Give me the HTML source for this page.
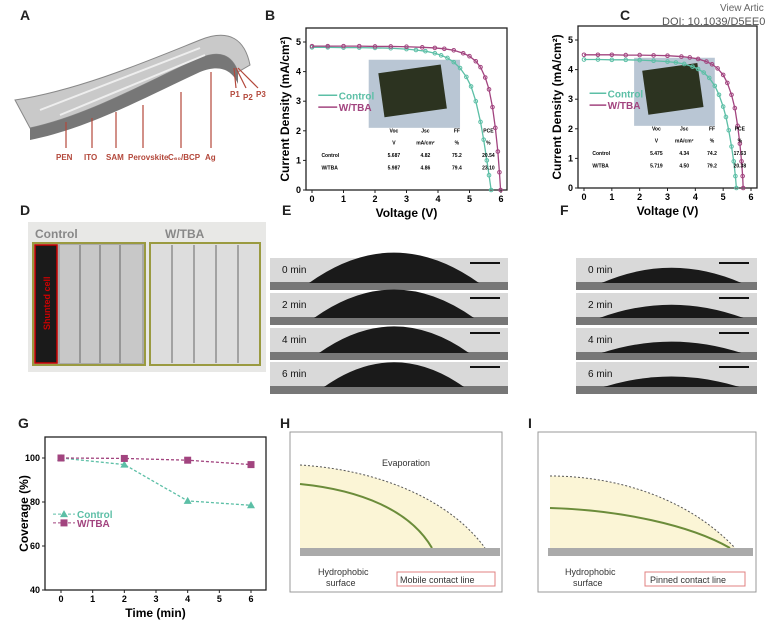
<!DOCTYPE html>
<html><head><meta charset="utf-8"><style>
body{margin:0;background:#fff;font-family:"Liberation Sans",sans-serif}
svg text{font-family:"Liberation Sans",sans-serif}
</style></head><body>
<svg id="fig" width="766" height="625" viewBox="0 0 766 625" xmlns="http://www.w3.org/2000/svg">
<text x="720" y="11" font-size="10" fill="#666">View Artic</text>
<text x="662" y="25" font-size="11" fill="#555">DOI: 10.1039/D5EE0</text>
<!-- panel labels -->
<g font-weight="bold" font-size="14" fill="#222">
<text x="20" y="20">A</text>
<text x="265" y="20">B</text>
<text x="620" y="20">C</text>
<text x="20" y="215">D</text>
<text x="282" y="215">E</text>
<text x="560" y="215">F</text>
<text x="18" y="428">G</text>
<text x="280" y="428">H</text>
<text x="528" y="428">I</text>
</g>
<!-- Panel A illustration -->
<g>
<path d="M15,100 C80,90 150,60 200,40 C230,28 245,40 250,65 L238,72 C232,55 220,50 200,58 C150,80 90,115 30,128 Z" fill="#c9c9c9" stroke="#888"/>
<path d="M30,128 L30,140 C90,128 150,95 200,72 C220,64 232,70 238,84 L238,72 C232,55 220,50 200,58 C150,80 90,115 30,128Z" fill="#777"/>
<path d="M40,110 L200,48 M60,115 L205,55" stroke="#eee" stroke-width="2"/>
</g>
<g font-size="8" fill="#b3473a" font-weight="bold">
<g stroke="#b3473a" stroke-width="1.2">
<line x1="66" y1="122" x2="66" y2="148"/><line x1="92" y1="118" x2="92" y2="148"/><line x1="116" y1="112" x2="116" y2="148"/><line x1="143" y1="105" x2="143" y2="148"/><line x1="181" y1="92" x2="181" y2="148"/><line x1="211" y1="72" x2="211" y2="148"/>
<line x1="234" y1="68" x2="236" y2="88"/><line x1="236" y1="68" x2="246" y2="88"/><line x1="238" y1="68" x2="258" y2="88"/>
</g>
<text x="56" y="160">PEN</text><text x="84" y="160">ITO</text><text x="106" y="160">SAM</text><text x="128" y="160">Perovskite</text><text x="168" y="160">C₆₀/BCP</text><text x="205" y="160">Ag</text>
<text x="230" y="97">P1</text><text x="243" y="100">P2</text><text x="256" y="97">P3</text>
</g>

<g id="chartB"></g><g id="chartC"></g><g id="chartG"></g>

<!-- Panel D -->
<g>
<rect x="28" y="222" width="238" height="150" fill="#e8e8e6"/>
<text x="35" y="238" font-size="12" font-weight="bold" fill="#888">Control</text>
<text x="165" y="238" font-size="12" font-weight="bold" fill="#888">W/TBA</text>
<rect x="33" y="243" width="112" height="122" fill="#aaa" stroke="#9a9a40" stroke-width="2"/>
<rect x="35" y="245" width="22" height="118" fill="#1a1a1a" stroke="#c00" stroke-width="1.5"/>
<text transform="translate(50,330) rotate(-90)" font-size="9" fill="#c00" font-weight="bold">Shunted cell</text>
<rect x="60" y="245" width="82" height="118" fill="#c8c8c8"/>
<rect x="150" y="243" width="110" height="122" fill="#ddd" stroke="#9a9a40" stroke-width="2"/>
<g stroke="#666"><line x1="80" y1="245" x2="80" y2="363"/><line x1="100" y1="245" x2="100" y2="363"/><line x1="120" y1="245" x2="120" y2="363"/><line x1="172" y1="245" x2="172" y2="363"/><line x1="194" y1="245" x2="194" y2="363"/><line x1="216" y1="245" x2="216" y2="363"/><line x1="238" y1="245" x2="238" y2="363"/></g>
</g>
<g id="drops"></g>

<!-- Panel H -->
<g>
<rect x="290" y="432" width="212" height="160" fill="#fff" stroke="#999"/>
<path d="M300,548 L300,465 C380,470 450,500 485,548Z" fill="#fbf5d6"/>
<path d="M300,465 C380,470 450,500 485,548" fill="none" stroke="#555" stroke-dasharray="2,2"/>
<path d="M300,484 C360,490 410,510 432,548" fill="none" stroke="#6b8c3a" stroke-width="2"/>
<rect x="300" y="548" width="200" height="8" fill="#aaa"/>
<text x="382" y="466" font-size="9" fill="#333">Evaporation</text>
<text x="318" y="575" font-size="9" fill="#333">Hydrophobic</text><text x="326" y="586" font-size="9" fill="#333">surface</text>
<rect x="397" y="572" width="98" height="14" fill="#fff" stroke="#e08080"/>
<text x="400" y="583" font-size="9" fill="#333">Mobile contact line</text>
</g>
<g>
<rect x="538" y="432" width="218" height="160" fill="#fff" stroke="#999"/>
<path d="M550,548 L550,476 C620,476 690,500 735,548Z" fill="#fbf5d6"/>
<path d="M550,476 C620,476 690,500 735,548" fill="none" stroke="#555" stroke-dasharray="2,2"/>
<path d="M550,508 C620,510 690,525 730,548" fill="none" stroke="#6b8c3a" stroke-width="2"/>
<rect x="548" y="548" width="205" height="8" fill="#aaa"/>
<text x="565" y="575" font-size="9" fill="#333">Hydrophobic</text><text x="573" y="586" font-size="9" fill="#333">surface</text>
<rect x="645" y="572" width="100" height="14" fill="#fff" stroke="#e08080"/>
<text x="650" y="583" font-size="9" fill="#333">Pinned contact line</text>
</g>
</svg>
<script>
const NS='http://www.w3.org/2000/svg';
function el(p,t,a){const e=document.createElementNS(NS,t);for(const k in a)e.setAttribute(k,a[k]);p.appendChild(e);return e;}
const TEAL='#5cbfa6',PURP='#a2447f';
// Panel B data
const bCtrlV=[0,0.5,1,1.5,2,2.5,3,3.3,3.6,3.9,4.1,4.3,4.5,4.7,4.9,5.05,5.2,5.35,5.45,5.55,5.62,5.687];
const bCtrlJ=[4.82,4.82,4.81,4.81,4.8,4.79,4.76,4.73,4.69,4.62,4.55,4.46,4.32,4.12,3.82,3.5,3.0,2.3,1.7,1.0,0.5,0];
const bTbaV=[0,0.5,1,1.5,2,2.5,3,3.5,3.9,4.2,4.5,4.8,5.0,5.2,5.35,5.5,5.62,5.73,5.82,5.9,5.95,5.987];
const bTbaJ=[4.86,4.86,4.86,4.86,4.85,4.85,4.84,4.82,4.8,4.77,4.72,4.62,4.52,4.35,4.15,3.8,3.4,2.8,2.1,1.3,0.6,0];
// Panel C data
const cCtrlV=[0,0.5,1,1.5,2,2.5,3,3.3,3.6,3.9,4.1,4.3,4.5,4.7,4.85,5.0,5.1,5.2,5.3,5.38,5.44,5.475];
const cCtrlJ=[4.34,4.34,4.33,4.33,4.32,4.3,4.27,4.24,4.19,4.1,4.02,3.9,3.72,3.45,3.15,2.75,2.4,1.95,1.4,0.9,0.4,0];
const cTbaV=[0,0.5,1,1.5,2,2.5,3,3.5,3.8,4.1,4.4,4.6,4.8,5.0,5.15,5.3,5.42,5.52,5.6,5.66,5.7,5.719];
const cTbaJ=[4.50,4.50,4.50,4.49,4.49,4.48,4.47,4.44,4.41,4.36,4.27,4.18,4.04,3.82,3.55,3.15,2.7,2.1,1.5,0.9,0.4,0];
// Panel G data
const gTime=[0,2,4,6];
const gCtrl=[100,97,80.5,78.5];
const gTba=[100,99.8,99,97];
const jvXTicks=[0,1,2,3,4,5,6];const jvYTicks=[0,1,2,3,4,5];
const gXTicks=[0,1,2,3,4,5,6];const gYTicks=[40,60,80,100];

function axes(g,L,R,T,B,x,y,xt,yt,xlab,ylab,nm){
  el(g,'rect',{x:L,y:T,width:R-L,height:B-T,fill:'none',stroke:'#222','stroke-width':1.3});
  xt.forEach(v=>{el(g,'line',{x1:x(v),x2:x(v),y1:B,y2:B+3,stroke:'#222'});const t=el(g,'text',{x:x(v),y:B+12,'font-size':9,'text-anchor':'middle','font-weight':'bold'});t.textContent=v;});
  yt.forEach(v=>{el(g,'line',{x1:L-3,x2:L,y1:y(v),y2:y(v),stroke:'#222'});const t=el(g,'text',{x:L-5,y:y(v)+3,'font-size':9,'text-anchor':'end','font-weight':'bold'});t.textContent=v;});
  const xl=el(g,'text',{x:(L+R)/2,y:B+27,'font-size':12,'font-weight':'bold','text-anchor':'middle'});xl.textContent=xlab;
  
  
  const yl=el(g,'text',{transform:`translate(${L-17},${(T+B)/2}) rotate(-90)`,'font-size':12,'font-weight':'bold','text-anchor':'middle'});yl.textContent=ylab;
  
  
}
function series(g,xs,ys,x,y,c,nm,marker,dash){
  const p=el(g,'polyline',{points:xs.map((v,i)=>x(v)+','+y(ys[i])).join(' '),fill:'none',stroke:c,'stroke-width':1.3});
  if(dash)p.setAttribute('stroke-dasharray','3,2');
  
  
  xs.forEach((v,i)=>{let m;
    if(marker==='c')m=el(g,'circle',{cx:x(v),cy:y(ys[i]),r:1.8,fill:'none',stroke:c});
    else if(marker==='s')m=el(g,'rect',{x:x(v)-3.5,y:y(ys[i])-3.5,width:7,height:7,fill:c});
    else m=el(g,'path',{d:`M${x(v)},${y(ys[i])-4}l4,7h-8z`,fill:c});
    
    
  });
}
function jv(id,L,R,T,B,cV,cJ,tV,tJ,tbl,photoFill,nm){
  const g=document.getElementById(id);
  const x=v=>L+6+v*(R-L-12)/6, y=v=>B-v*(B-T-14)/5;
  axes(g,L,R,T,B,x,y,jvXTicks,jvYTicks,'Voltage (V)','Current Density (mA/cm²)',nm);
  const ph=el(g,'rect',{x:x(1.8),y:y(4.4),width:x(4.7)-x(1.8),height:y(2.1)-y(4.4),fill:photoFill});
  
  
  el(g,'rect',{x:x(2.2),y:y(4.1),width:x(4.2)-x(2.2),height:y(2.6)-y(4.1),fill:'#2c3320',transform:`rotate(-8 ${x(3.2)} ${y(3.3)})`});
  series(g,cV,cJ,x,y,TEAL,nm+'-control','c');
  series(g,tV,tJ,x,y,PURP,nm+'-wtba','c');
  [[TEAL,'Control',3.2],[PURP,'W/TBA',2.8]].forEach(([c,l,v])=>{el(g,'line',{x1:x(0.2),x2:x(0.8),y1:y(v),y2:y(v),stroke:c,'stroke-width':1.5});const t=el(g,'text',{x:x(0.85),y:y(v)+4,'font-size':10,'font-weight':'bold',fill:c});t.textContent=l;
    
    });
  const cols=[1.4,2.6,3.6,4.6,5.6];
  tbl.forEach((row,r)=>row.forEach((s,i)=>{const t=el(g,'text',{x:i==0?x(0.3):x(cols[i]),y:y(1.95-r*0.42),'font-size':5,'text-anchor':i==0?'start':'middle','font-weight':'bold'});t.textContent=s;}));
}
jv('chartB',306,507,28,190,bCtrlV,bCtrlJ,bTbaV,bTbaJ,[['','Voc','Jsc','FF','PCE'],['','V','mA/cm²','%','%'],['Control','5.687','4.82','75.2','20.54'],['W/TBA','5.987','4.86','79.4','23.10']],'#b9c6d4','jv-b');
jv('chartC',578,757,26,188,cCtrlV,cCtrlJ,cTbaV,cTbaJ,[['','Voc','Jsc','FF','PCE'],['','V','mA/cm²','%','%'],['Control','5.475','4.34','74.2','17.63'],['W/TBA','5.719','4.50','79.2','20.38']],'#b9c6d4','jv-c');
(function(){
  const g=document.getElementById('chartG');const L=45,R=266,T=437,B=590;
  const x=v=>61+v*(251-61)/6, y=v=>B-(v-40)*(B-458)/60;
  axes(g,L,R,T,B,x,y,gXTicks,gYTicks,'Time (min)','Coverage (%)','coverage');
  series(g,gTime,gCtrl,x,y,TEAL,'coverage-control','t',true);
  series(g,gTime,gTba,x,y,PURP,'coverage-wtba','s',true);
  [[TEAL,'Control',74.5],[PURP,'W/TBA',70.5]].forEach(([c,l,v],i)=>{el(g,'line',{x1:53,x2:75,y1:y(v),y2:y(v),stroke:c,'stroke-dasharray':'3,2'});
    if(i==0)el(g,'path',{d:`M64,${y(v)-4}l4,7h-8z`,fill:c});else el(g,'rect',{x:60.5,y:y(v)-3.5,width:7,height:7,fill:c});
    const t=el(g,'text',{x:77,y:y(v)+4,'font-size':10,'font-weight':'bold',fill:c});t.textContent=l;
    
    });
})();
(function(){
  const g=document.getElementById('drops');const rows=[258,293,328,362],labs=['0 min','2 min','4 min','6 min'];
  [[270,508,[85,80,75,70],[32,30,28,26]],[576,757,[70,72,70,68],[16,14,12,11]]].forEach(([L,R,w,h],p)=>{
    rows.forEach((ry,i)=>{
      const r=el(g,'rect',{x:L,y:ry,width:R-L,height:32,fill:'#d9d9d9'});
      
      
      el(g,'rect',{x:L,y:ry+24,width:R-L,height:8,fill:'#777'});
      const cx=(L+R)/2+5;
      el(g,'path',{d:`M${cx-w[i]},${ry+25} Q${cx},${ry+25-h[i]*1.9} ${cx+w[i]},${ry+25}Z`,fill:'#1a1a1a'});
      el(g,'line',{x1:R-38,x2:R-8,y1:ry+5,y2:ry+5,stroke:'#111','stroke-width':2});
      const t=el(g,'text',{x:L+12,y:ry+15,'font-size':10,fill:'#111'});t.textContent=labs[i];
    });
  });
})();
</script>
</body></html>
